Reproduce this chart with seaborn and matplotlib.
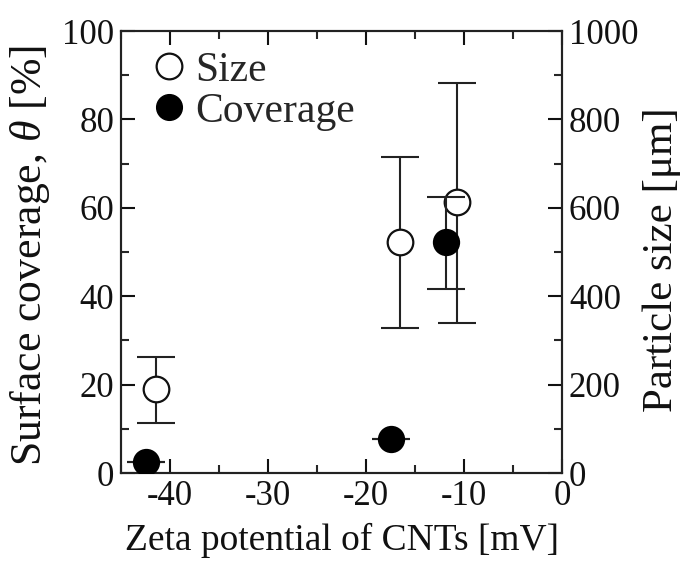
import matplotlib
matplotlib.use("Agg")
import matplotlib.pyplot as plt
import seaborn as sns
import pandas as pd
from matplotlib.ticker import MultipleLocator
from matplotlib.lines import Line2D

# Data
size_x = [-41.4, -16.5, -10.7]
size_val = [190, 522, 612]
size_lo = [112, 327, 339]
size_hi = [262, 715, 883]

cov_x = [-42.4, -17.5, -11.8]
cov_val = [2.6, 7.6, 52.2]
cov_lo = [2.6, 7.6, 41.6]
cov_hi = [2.6, 7.6, 62.4]

sns.set_theme(style="ticks")
plt.rcParams["font.family"] = ["Liberation Serif", "DejaVu Serif"]
plt.rcParams["mathtext.fontset"] = "custom"
plt.rcParams["mathtext.rm"] = "Liberation Serif"
plt.rcParams["mathtext.it"] = "Liberation Serif:italic"
plt.rcParams["axes.unicode_minus"] = False

W, H = 686, 562
fig = plt.figure(figsize=(W / 100, H / 100), dpi=100)
L, R, T, B = 121, 562, 31, 473
ax = fig.add_axes([L / W, 1 - B / H, (R - L) / W, (B - T) / H])
ax2 = ax.twinx()

tfs = 25
lfs_x = 27
lfs_y = 31.5
lfs_y2 = 31
lw = 1.5
ink = "#111111"

# Size (right axis)
ax2.errorbar(size_x, size_val,
             yerr=[[v - l for v, l in zip(size_val, size_lo)],
                   [h - v for v, h in zip(size_val, size_hi)]],
             fmt="none", ecolor="#222222", elinewidth=lw, capsize=14, capthick=lw, zorder=2)
df_s = pd.DataFrame({"x": size_x, "y": size_val})
sns.scatterplot(data=df_s, x="x", y="y", ax=ax2, s=340, marker="o",
                facecolor="white", edgecolor=ink, linewidth=1.6, zorder=3)

# Coverage (left axis, 0-100 %) drawn on the twin axis scaled x10 for layering
cov_err = [[v - l for v, l in zip(cov_val, cov_lo)], [h - v for v, h in zip(cov_val, cov_hi)]]
ax2.errorbar(cov_x, [v * 10 for v in cov_val],
             yerr=[[e * 10 for e in cov_err[0]], [e * 10 for e in cov_err[1]]],
             fmt="none", ecolor="#222222", elinewidth=lw, capsize=14, capthick=lw, zorder=4)
df_c = pd.DataFrame({"x": cov_x, "y": [v * 10 for v in cov_val]})
sns.scatterplot(data=df_c, x="x", y="y", ax=ax2, s=340, marker="o",
                color="black", edgecolor="black", linewidth=1.2, zorder=5)

ax.set_xlim(-45, 0)
ax.set_ylim(0, 100)
ax2.set_ylim(0, 1000)
ax2.set_xlim(-45, 0)

ax.xaxis.set_major_locator(MultipleLocator(10))
ax.xaxis.set_minor_locator(MultipleLocator(5))
ax.yaxis.set_major_locator(MultipleLocator(20))
ax.yaxis.set_minor_locator(MultipleLocator(10))
ax2.yaxis.set_major_locator(MultipleLocator(200))
ax2.yaxis.set_minor_locator(MultipleLocator(100))

ax.tick_params(axis="both", which="major", direction="in", length=10, width=lw,
               labelsize=tfs, colors=ink, top=True)
ax.tick_params(axis="both", which="minor", direction="in", length=6, width=lw, top=True)
ax.tick_params(axis="x", which="major", pad=5)
ax.tick_params(axis="y", which="major", pad=5)
ax.tick_params(axis="y", right=False)
ax2.tick_params(axis="y", which="major", direction="in", length=10, width=lw,
                labelsize=tfs, colors=ink, pad=5)
ax2.tick_params(axis="y", which="minor", direction="in", length=6, width=lw)

for a in (ax, ax2):
    for sp in a.spines.values():
        sp.set_linewidth(lw)
        sp.set_color("#222222")

ax.set_xlabel("Zeta potential of CNTs [mV]", fontsize=lfs_x, color=ink)
ax.set_ylabel(r"Surface coverage, $\it{\theta}$ [%]", fontsize=lfs_y, color=ink)
ax2.set_ylabel("Particle size [\u03bcm]", fontsize=lfs_y2, color=ink)

ax.xaxis.label.set_verticalalignment("center")
ax.yaxis.label.set_verticalalignment("center")
ax2.yaxis.label.set_verticalalignment("center")
ax.xaxis.set_label_coords(0.5, (B - 540) / (B - T))
ax.yaxis.set_label_coords((30 - L) / (R - L), (B - 256) / (B - T))
ax2.yaxis.set_label_coords((662 - L) / (R - L), (B - 260) / (B - T))

# Legend
handles = [Line2D([], [], marker="o", linestyle="none", markersize=18.5,
                  markerfacecolor="white", markeredgecolor=ink, markeredgewidth=1.6),
           Line2D([], [], marker="o", linestyle="none", markersize=18.5,
                  markerfacecolor="black", markeredgecolor="black")]
ax2.legend(handles, ["Size", "Coverage"], loc="upper left", frameon=False, fontsize=30,
           handletextpad=0.15, labelspacing=0.05, borderaxespad=0.0, handlelength=0.95,
           borderpad=0.3, bbox_to_anchor=(0.036, 0.982))

fig.savefig("out.png", dpi=100)
